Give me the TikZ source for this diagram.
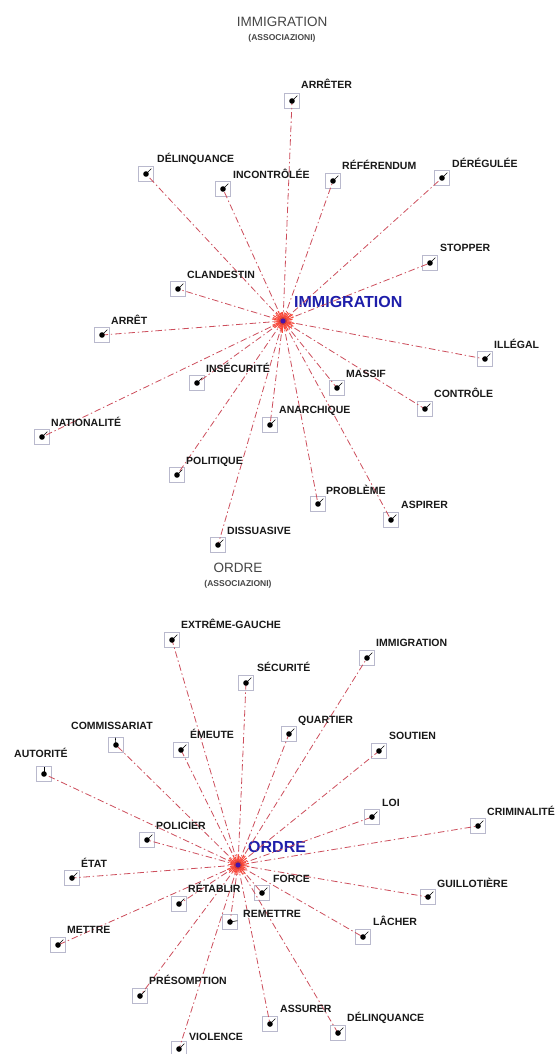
\documentclass[tikz,border=0pt]{standalone}
\usepackage{fontspec}
\setmainfont{Liberation Sans}
\definecolor{linkc}{RGB}{205,78,92}
\definecolor{boxc}{RGB}{185,185,205}
\definecolor{hubred}{RGB}{248,72,58}
\definecolor{hubblue}{RGB}{70,20,170}
\definecolor{keyblue}{RGB}{30,30,170}
\definecolor{titlec}{RGB}{70,70,70}
\tikzset{
  termbox/.style={draw=boxc, line width=0.6pt, rectangle, minimum size=15pt, inner sep=0pt},
  word/.style={anchor=base west, inner sep=0pt, text=black!90, font=\fontsize{10.5}{12}\selectfont\bfseries},
  keyword/.style={anchor=base west, inner sep=0pt, text=keyblue, font=\fontsize{16}{18}\selectfont\bfseries},
  headline/.style={inner sep=0pt, text=titlec, font=\fontsize{13.5}{15}\selectfont},
  subline/.style={inner sep=0pt, text=titlec, font=\fontsize{8.5}{10}\selectfont\bfseries},
  link/.style={draw=linkc, line width=0.8pt, dash pattern=on 6.5pt off 2.8pt on 1.4pt off 2.8pt},
  leader/.style={draw=black, line width=0.6pt},
  hubpt/.style={inner sep=0pt, minimum size=1pt}
}
% name / box x / box y / label x / label y / text / leader angle
\def\toplist{a1/292/101/301/85/ARRÊTER/45,
a2/146/174/157/158/DÉLINQUANCE/45,
a3/223/189/233/174/INCONTRÔLÉE/45,
a4/333/181/342/165/RÉFÉRENDUM/45,
a5/442/178/452/163/DÉRÉGULÉE/45,
a6/430/263/440/247/STOPPER/45,
a7/178/289/187/274/CLANDESTIN/45,
a8/102/335/111/320/ARRÊT/45,
a9/485/359/494/344/ILLÉGAL/45,
a10/197/383/206/368/INSÉCURITÉ/45,
a11/337/388/346/373/MASSIF/45,
a12/425/409/434/393/CONTRÔLE/45,
a13/270/425/279/409/ANARCHIQUE/45,
a14/42/437/51/422/NATIONALITÉ/45,
a15/177/475/186/460/POLITIQUE/45,
a16/318/504/326/490/PROBLÈME/45,
a17/391/520/401/504/ASPIRER/45,
a18/218/545/227/530/DISSUASIVE/45}
\def\botlist{b1/172/640/181/624/EXTRÊME-GAUCHE/45,
b2/367/658/376/642/IMMIGRATION/45,
b3/246/683/257/667/SÉCURITÉ/45,
b4/289/734/298/719/QUARTIER/45,
b5/116/745/71/725/COMMISSARIAT/95,
b6/181/750/190/734/ÉMEUTE/45,
b7/379/751/389/735/SOUTIEN/45,
b8/44/774/14/753/AUTORITÉ/90,
b9/372/817/382/802/LOI/45,
b10/478/826/487/811/CRIMINALITÉ/45,
b11/147/840/156/825/POLICIER/45,
b12/72/878/81/863/ÉTAT/45,
b13/262/893/273/878/FORCE/45,
b14/428/897/437/883/GUILLOTIÈRE/45,
b15/179/904/188/888/RÉTABLIR/45,
b16/230/922/243/913/REMETTRE/10,
b17/58/945/67/929/METTRE/45,
b18/363/937/373/921/LÂCHER/45,
b19/140/996/149/980/PRÉSOMPTION/45,
b20/270/1024/280/1008/ASSURER/45,
b21/338/1033/347/1017/DÉLINQUANCE/45,
b22/179/1049/189/1036/VIOLENCE/45}
\begin{document}
\begin{tikzpicture}[x=1pt,y=-1pt]
\useasboundingbox (0,0) rectangle (556,1054);
\fill[white] (0,0) rectangle (556,1054);

% titles
\node[headline] (titleA) at (282,22) {IMMIGRATION};
\node[subline] (subA) at (282,38) {(ASSOCIAZIONI)};
\node[headline] (titleB) at (238,568) {ORDRE};
\node[subline] (subB) at (238,584) {(ASSOCIAZIONI)};

% hubs
\node[hubpt] (hubA) at (283,321) {};
\node[hubpt] (hubB) at (238,865) {};
\node[keyword] (hubA-l) at (294,307) {IMMIGRATION};
\node[keyword] (hubB-l) at (248,852) {ORDRE};

% term boxes
\foreach \n/\bx/\by/\lx/\ly/\t/\a in \toplist {
  \node[termbox] (\n) at (\bx,\by) {};
}
\foreach \n/\bx/\by/\lx/\ly/\t/\a in \botlist {
  \node[termbox] (\n) at (\bx,\by) {};
}

% associations
\foreach \n/\bx/\by/\lx/\ly/\t/\a in \toplist {
  \draw[link] (hubA.center) -- (\n.center);
}
\foreach \n/\bx/\by/\lx/\ly/\t/\a in \botlist {
  \draw[link] (hubB.center) -- (\n.center);
}

% dots, leaders and words
\foreach \n/\bx/\by/\lx/\ly/\t/\a in \toplist {
  \fill (\n.center) circle (2.8pt);
  \draw[leader] (\n.center) -- ++(\a:7.5pt);
  \node[word] (\n-l) at (\lx,\ly+4) {\t};
}
\foreach \n/\bx/\by/\lx/\ly/\t/\a in \botlist {
  \fill (\n.center) circle (2.8pt);
  \draw[leader] (\n.center) -- ++(\a:7.5pt);
  \node[word] (\n-l) at (\lx,\ly+4) {\t};
}

% starbursts at the hubs
\pgfmathsetseed{7}
\foreach \h in {hubA,hubB} {
  \fill[hubred!60] (\h.center) circle (6.5pt);
  \foreach \k in {0,...,35} {
    \pgfmathsetmacro{\ang}{\k*10+4*rand}
    \pgfmathsetmacro{\len}{8+4*rnd}
    \draw[hubred, line width=0.9pt] (\h.center) -- ++(\ang:\len pt);
  }
  \fill[hubred!85!black] (\h.center) circle (4pt);
  \fill[hubblue] (\h.center) circle (2.6pt);
}
\end{tikzpicture}
\end{document}
